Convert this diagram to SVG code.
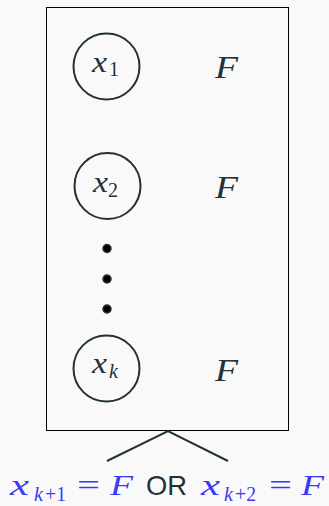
<svg xmlns="http://www.w3.org/2000/svg" width="329" height="506" viewBox="0 0 329 506">
<style>
.bg{fill:#f9f9f9}
.box{fill:none;stroke:#000;stroke-width:1}
.node{fill:none;stroke:#233237;stroke-width:2}
.mi{font-family:"Liberation Serif","DejaVu Serif",serif;font-style:italic;fill:#233237}
.mr{font-family:"Liberation Serif","DejaVu Serif",serif;font-style:normal;fill:#233237}
.blue{fill:#3a3af5}
.or{font-family:"Liberation Sans","DejaVu Sans",sans-serif;fill:#233237}
.dot{fill:#000;stroke:#233237;stroke-width:1.5}
.conn{stroke:#233237;stroke-width:2;fill:none}
</style>
<rect class="bg" x="0" y="0" width="329" height="506"/>
<rect class="box" x="46.5" y="7.5" width="242" height="423"/>
<g id="node-x1">
<circle class="node" cx="106.5" cy="66.5" r="33"/>
<text class="mi" x="92" y="72" font-size="29" textLength="15" lengthAdjust="spacingAndGlyphs">x</text>
<text class="mr" x="109" y="76" font-size="20">1</text>
</g>
<g id="node-F1"><text class="mi" x="215" y="78" font-size="31" textLength="23" lengthAdjust="spacingAndGlyphs">F</text></g>
<g id="node-x2">
<circle class="node" cx="107.5" cy="186" r="33"/>
<text class="mi" x="93" y="192" font-size="29" textLength="15" lengthAdjust="spacingAndGlyphs">x</text>
<text class="mr" x="108" y="197" font-size="20">2</text>
</g>
<g id="node-F2"><text class="mi" x="215" y="198" font-size="31" textLength="23" lengthAdjust="spacingAndGlyphs">F</text></g>
<g id="node-dots">
<circle class="dot" cx="107" cy="248.5" r="4"/>
<circle class="dot" cx="107" cy="279" r="4"/>
<circle class="dot" cx="107" cy="309" r="4"/>
</g>
<g id="node-xk">
<circle class="node" cx="106.5" cy="368.5" r="33"/>
<text class="mi" x="92" y="373" font-size="29" textLength="15" lengthAdjust="spacingAndGlyphs">x</text>
<text class="mi" x="109" y="378" font-size="20">k</text>
</g>
<g id="node-Fk"><text class="mi" x="215" y="381" font-size="31" textLength="23" lengthAdjust="spacingAndGlyphs">F</text></g>
<g id="connectors">
<polyline class="conn" points="107,461 168,431 228,461"/>
</g>
<g id="node-bottom">
<text class="mi blue" x="10" y="495" font-size="30" textLength="19" lengthAdjust="spacingAndGlyphs">x</text>
<text class="mi blue" x="34" y="501" font-size="20">k</text>
<text class="mr blue" x="45" y="501" font-size="20" textLength="21" lengthAdjust="spacingAndGlyphs">+1</text>
<text class="mr blue" x="77" y="495" font-size="30" textLength="23" lengthAdjust="spacingAndGlyphs">=</text>
<text class="mi blue" x="110" y="495" font-size="29" textLength="23" lengthAdjust="spacingAndGlyphs">F</text>
<text class="or" x="146" y="495" font-size="28" textLength="41" lengthAdjust="spacingAndGlyphs">OR</text>
<text class="mi blue" x="201" y="495" font-size="30" textLength="19" lengthAdjust="spacingAndGlyphs">x</text>
<text class="mi blue" x="224" y="501" font-size="20">k</text>
<text class="mr blue" x="235" y="501" font-size="20" textLength="21" lengthAdjust="spacingAndGlyphs">+2</text>
<text class="mr blue" x="269" y="495" font-size="30" textLength="23" lengthAdjust="spacingAndGlyphs">=</text>
<text class="mi blue" x="301" y="495" font-size="29" textLength="23" lengthAdjust="spacingAndGlyphs">F</text>
</g>
</svg>
